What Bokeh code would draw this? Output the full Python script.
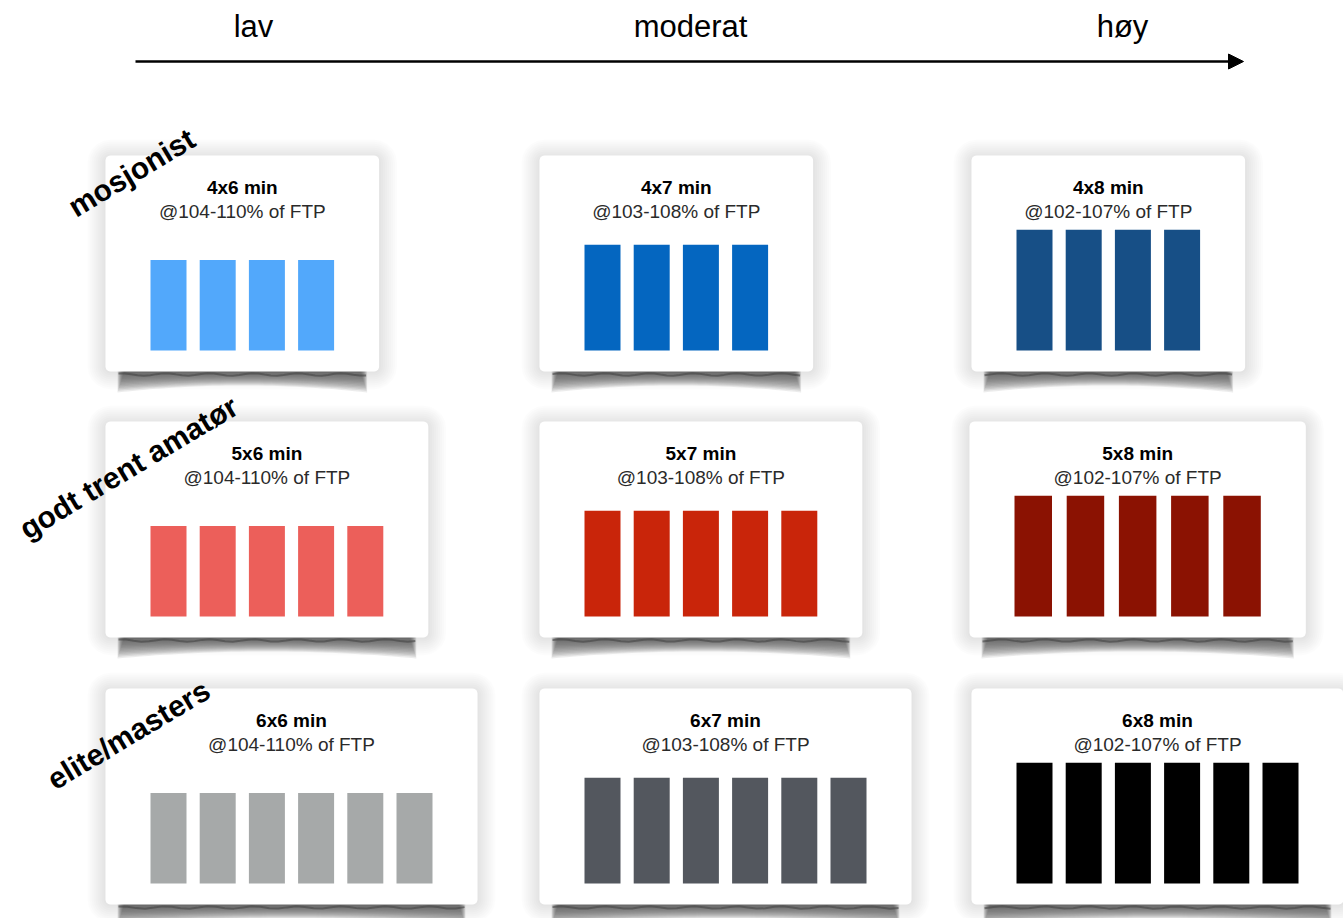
import numpy as np
from bokeh.plotting import figure
from bokeh.models import Arrow, NormalHead
from bokeh.core.properties import value
from bokeh.embed import file_html
from bokeh.resources import INLINE

# ---------------- data ----------------
levels = ["lav", "moderat", "høy"]
groups = ["mosjonist", "godt trent amatør", "elite/masters"]
reps = [4, 5, 6]                 # intervals per row (group)
minutes = [6, 7, 8]              # minutes per interval per column (level)
ftp_ranges = ["@104-110% of FTP", "@103-108% of FTP", "@102-107% of FTP"]
bar_colors = [
    ["#52a8fb", "#0466c0", "#174f86"],
    ["#ec5f5a", "#c9250a", "#8b1202"],
    ["#a6a9a9", "#53575e", "#000000"],
]

# ---------------- layout (pixels, y measured from top) ----------------
W, H = 1343, 918
col_bar_left = [150, 584, 1016]
row_base = [350, 616, 883]
row_card_top = [155, 421, 688]
bar_w, pitch, px_per_min = 36, 49.2, 15.1
override = {(1, 2): (1014, 37.5, 52.2)}
card_pad = 45
level_x = [253, 690, 1122]
group_xy = [(131, 172), (128, 467), (128, 734)]


def Y(y):
    return H - y


def rrect(l, r, t, b, rad, n=6):
    xs, ys = [], []
    corners = [(r - rad, t + rad, -np.pi / 2, 0), (r - rad, b - rad, 0, np.pi / 2),
               (l + rad, b - rad, np.pi / 2, np.pi), (l + rad, t + rad, np.pi, 1.5 * np.pi)]
    for cx, cy, a0, a1 in corners:
        for a in np.linspace(a0, a1, n):
            xs.append(cx + rad * np.cos(a))
            ys.append(Y(cy + rad * np.sin(a)))
    return xs, ys


p = figure(width=W, height=H, x_range=(0, W), y_range=(0, H), output_backend="svg",
           toolbar_location=None, x_axis_type=None, y_axis_type=None, min_border=0,
           outline_line_color=None, background_fill_color="white", border_fill_color="white")

font = value("Liberation Sans")

# header
p.text(x=level_x, y=[Y(26)] * 3, text=levels, text_font=font, text_font_size="31px",
       text_align="center", text_baseline="middle", text_color="#000000")
p.add_layout(Arrow(end=NormalHead(size=15, fill_color="black", line_color="black", line_width=1),
                   x_start=135, y_start=Y(61), x_end=1243, y_end=Y(61),
                   line_width=2.5, line_color="black"))

glow_xs, glow_ys = [], []
sh_xs, sh_ys = [], []
edge_xs, edge_ys = [], []
card_xs, card_ys = [], []
bl, br, bt, bb, bc = [], [], [], [], []
tx, ty, tt, sx, sy, st = [], [], [], [], [], []

for i in range(3):
    for j in range(3):
        left0, bw, pt = override.get((i, j), (col_bar_left[j], bar_w, pitch))
        n = reps[i]
        base = row_base[i]
        top = base - minutes[j] * px_per_min
        lefts = [left0 + k * pt for k in range(n)]
        bl += lefts
        br += [x + bw for x in lefts]
        bt += [Y(top)] * n
        bb += [Y(base)] * n
        bc += [bar_colors[i][j]] * n
        span_r = lefts[-1] + bw
        cx = (left0 + span_r) / 2
        cl, cr = left0 - card_pad, span_r + card_pad
        ct, cb = row_card_top[i], base + 21
        # glow
        for d in range(1, 10):
            xs, ys = rrect(cl - d * 2, cr + d * 2, ct - d * 2 + 2, cb + d * 2, 5 + d * 2)
            glow_xs.append(xs)
            glow_ys.append(ys)
        # curl shadow (layered for a soft gradient)
        t = np.linspace(0, 1, 40)
        for k in range(14):
            f = 1 - k / 14
            ins = 12 + k * 0.5
            x0, x1 = cl + ins, cr - ins
            depth_end, depth_mid = 3 + 21 * f, 3 + 14 * f
            xb = x0 + (x1 - x0) * t
            yb = cb - 3 + depth_mid + (depth_end - depth_mid) * (2 * t - 1) ** 2
            xs = [x0] + list(xb) + [x1]
            ys = [Y(cb - 6)] + [Y(v) for v in yb] + [Y(cb - 6)]
            sh_xs.append(xs)
            sh_ys.append(ys)
        xe = np.linspace(cl + 13, cr - 13, 40)
        edge_xs.append(list(xe))
        edge_ys.append([Y(cb + 3 + 1.2 * np.sin(v / 7.0)) for v in xe])
        xs, ys = rrect(cl, cr, ct, cb, 5)
        card_xs.append(xs)
        card_ys.append(ys)
        tx.append(cx); ty.append(Y(ct + 32)); tt.append(f"{reps[i]}x{minutes[j]} min")
        sx.append(cx); sy.append(Y(ct + 56)); st.append(ftp_ranges[j])

p.patches(glow_xs, glow_ys, fill_color="black", fill_alpha=0.011, line_color=None)
p.patches(sh_xs, sh_ys, fill_color="#555555", fill_alpha=0.11, line_color=None)
p.multi_line(edge_xs, edge_ys, line_color="#444444", line_alpha=0.6, line_width=2)
p.patches(card_xs, card_ys, fill_color="white", line_color=None)
p.quad(left=bl, right=br, top=bt, bottom=bb, fill_color=bc, line_color=None)
p.text(x=tx, y=ty, text=tt, text_font=font, text_font_size="19px", text_font_style="bold",
       text_align="center", text_baseline="middle", text_color="#000000")
p.text(x=sx, y=sy, text=st, text_font=font, text_font_size="19px",
       text_align="center", text_baseline="middle", text_color="#2a2a2a")

p.text(x=[g[0] for g in group_xy], y=[Y(g[1]) for g in group_xy], text=groups, angle=0.54,
       text_font=font, text_font_size="30px", text_font_style="bold",
       text_align="center", text_baseline="middle", text_color="#000000")

open("out.html", "w").write(file_html(p, INLINE))
